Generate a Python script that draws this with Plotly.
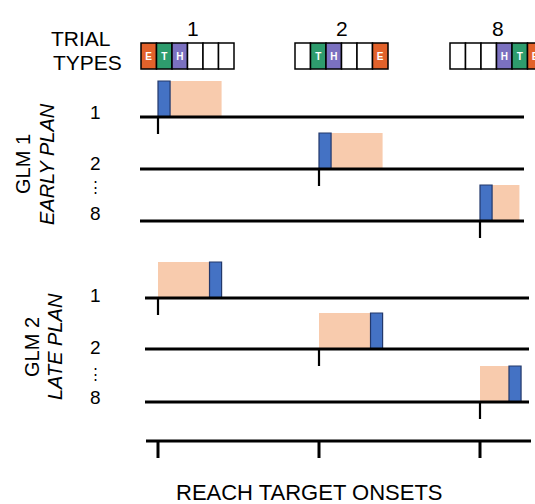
import plotly.graph_objects as go

# ---------------- data ----------------
TRIAL_TYPES = ["1", "2", "8"]
TRIAL_SEQUENCES = [
    ["E", "T", "H", "", "", ""],
    ["", "T", "H", "", "", "E"],
    ["", "", "", "H", "T", "E"],
]
TARGET_ONSETS = [0.0, 1.0, 2.0]          # reach target onset of each trial type
REACH_DURATIONS = [0.075, 0.075, 0.075]  # blue event
EARLY_PLAN_DURATIONS = [0.32, 0.32, 0.17]
LATE_PLAN_DURATIONS = [0.32, 0.32, 0.18]
GLM_TITLES = ["GLM 1", "GLM 2"]
GLM_SUBTITLES = ["EARLY PLAN", "LATE PLAN"]
HEADER_LINES = ["TRIAL", "TYPES"]
X_TITLE = "REACH TARGET ONSETS"

# ---------------- layout / style ----------------
W, H = 535, 504
ORIGIN_PX, UNIT_PX = 158, 161


def xu(px):
    return (px - ORIGIN_PX) / UNIT_PX


FONT = "Liberation Sans, Arial, sans-serif"
BLUE, BLUE_EDGE = "#4472C4", "#22386B"
PEACH = "#F8CBAD"
CELL_COLORS = {"E": "#E2622B", "T": "#2E9C6D", "H": "#7B71C0", "": "white"}

GLM_BASELINES = [[117, 169, 221], [298, 349, 402]]
GLM_LINE_SPAN = [(140, 524), (145, 529)]
AXIS_Y, AXIS_SPAN = 441, (146, 531)
BAR_H = 36
TICK_LEN = 17

HEADER_LEFT = [141, 295, 450]
HEADER_NUM_X = [193, 342, 498]
CELL_W = 15.5
BOX_Y, BOX_H = 56, 26

ROW_LABEL_X = 95
ROW_LABEL_Y = [[112, 163, 213], [295, 347, 397]]
DOTS_Y = [186, 373]
GLM_TITLE_X = [(23, 47), (32, 55)]
GLM_TITLE_Y = [164, 347]

fig = go.Figure()

# baselines and onset ticks
for g, baselines in enumerate(GLM_BASELINES):
    lx, ly = [], []
    tx, ty = [], []
    x0, x1 = GLM_LINE_SPAN[g]
    for r, by in enumerate(baselines):
        lx += [xu(x0), xu(x1), None]
        ly += [by, by, None]
        tx += [TARGET_ONSETS[r], TARGET_ONSETS[r], None]
        ty += [by, by + TICK_LEN, None]
    fig.add_trace(go.Scatter(x=lx, y=ly, mode="lines",
                             line=dict(color="black", width=3.2), hoverinfo="skip"))
    fig.add_trace(go.Scatter(x=tx, y=ty, mode="lines",
                             line=dict(color="black", width=2.2), hoverinfo="skip"))

# bottom axis
ax_x = [xu(AXIS_SPAN[0]), xu(AXIS_SPAN[1]), None]
ax_y = [AXIS_Y, AXIS_Y, None]
for t in TARGET_ONSETS:
    ax_x += [t, t, None]
    ax_y += [AXIS_Y, AXIS_Y + TICK_LEN, None]
fig.add_trace(go.Scatter(x=ax_x, y=ax_y, mode="lines",
                         line=dict(color="black", width=3), hoverinfo="skip"))

# GLM 1 : reach event then early plan
b1 = GLM_BASELINES[0]
fig.add_trace(go.Bar(orientation="h", y=[b - BAR_H / 2 for b in b1],
                     x=EARLY_PLAN_DURATIONS,
                     base=[o + d for o, d in zip(TARGET_ONSETS, REACH_DURATIONS)],
                     width=BAR_H, marker=dict(color=PEACH, line=dict(width=0)),
                     hoverinfo="skip"))
fig.add_trace(go.Bar(orientation="h", y=[b - BAR_H / 2 for b in b1],
                     x=REACH_DURATIONS, base=TARGET_ONSETS,
                     width=BAR_H, marker=dict(color=BLUE, line=dict(color=BLUE_EDGE, width=1.2)),
                     hoverinfo="skip"))

# GLM 2 : late plan then reach event
b2 = GLM_BASELINES[1]
fig.add_trace(go.Bar(orientation="h", y=[b - BAR_H / 2 for b in b2],
                     x=LATE_PLAN_DURATIONS, base=TARGET_ONSETS,
                     width=BAR_H, marker=dict(color=PEACH, line=dict(width=0)),
                     hoverinfo="skip"))
fig.add_trace(go.Bar(orientation="h", y=[b - BAR_H / 2 for b in b2],
                     x=REACH_DURATIONS,
                     base=[o + d for o, d in zip(TARGET_ONSETS, LATE_PLAN_DURATIONS)],
                     width=BAR_H, marker=dict(color=BLUE, line=dict(color=BLUE_EDGE, width=1.2)),
                     hoverinfo="skip"))

# trial type sequence boxes
cx, cbase, ccol, ctxt = [], [], [], []
for k, seq in enumerate(TRIAL_SEQUENCES):
    for i, letter in enumerate(seq):
        cx.append(CELL_W / UNIT_PX)
        cbase.append(xu(HEADER_LEFT[k] + i * CELL_W))
        ccol.append(CELL_COLORS[letter])
        ctxt.append(f"<b>{letter}</b>" if letter else "")
fig.add_trace(go.Bar(orientation="h", y=[BOX_Y] * len(cx), x=cx, base=cbase,
                     width=BOX_H, text=ctxt, textposition="inside",
                     insidetextanchor="middle", textangle=0,
                     textfont=dict(color="white", size=10, family=FONT),
                     marker=dict(color=ccol, line=dict(color="black", width=1.5)),
                     hoverinfo="skip"))

ann = []


def add_text(txt, xpx, ypx, size=20, angle=0, xanchor="center"):
    ann.append(dict(text=txt, x=xu(xpx), y=ypx, xref="x", yref="y",
                    showarrow=False, textangle=angle, xanchor=xanchor,
                    yanchor="middle", font=dict(size=size, color="black", family=FONT)))


add_text(HEADER_LINES[0], 49, 38, 21, xanchor="left")
add_text(HEADER_LINES[1], 51, 62, 21, xanchor="left")
for k, lab in enumerate(TRIAL_TYPES):
    add_text(lab, HEADER_NUM_X[k], 28, 21)

for g in range(2):
    for r, lab in enumerate(TRIAL_TYPES):
        add_text(lab, ROW_LABEL_X, ROW_LABEL_Y[g][r], 19)
    add_text("⋮", ROW_LABEL_X, DOTS_Y[g], 15)
    add_text(GLM_TITLES[g], GLM_TITLE_X[g][0], GLM_TITLE_Y[g], 20, angle=-90)
    add_text(f"<i>{GLM_SUBTITLES[g]}</i>", GLM_TITLE_X[g][1], GLM_TITLE_Y[g], 20, angle=-90)

add_text(X_TITLE, 309, 492, 22)

fig.update_layout(
    width=W, height=H,
    margin=dict(l=0, r=0, t=0, b=0, pad=0),
    paper_bgcolor="white", plot_bgcolor="white",
    showlegend=False, barmode="overlay",
    annotations=ann,
    xaxis=dict(range=[xu(0), xu(W)], visible=False, fixedrange=True),
    yaxis=dict(range=[H, 0], visible=False, fixedrange=True),
)

fig.write_html(
    "out.html",
    config={"displayModeBar": False},
    post_script="document.body.style.margin='0px';document.body.style.overflow='hidden';",
)
